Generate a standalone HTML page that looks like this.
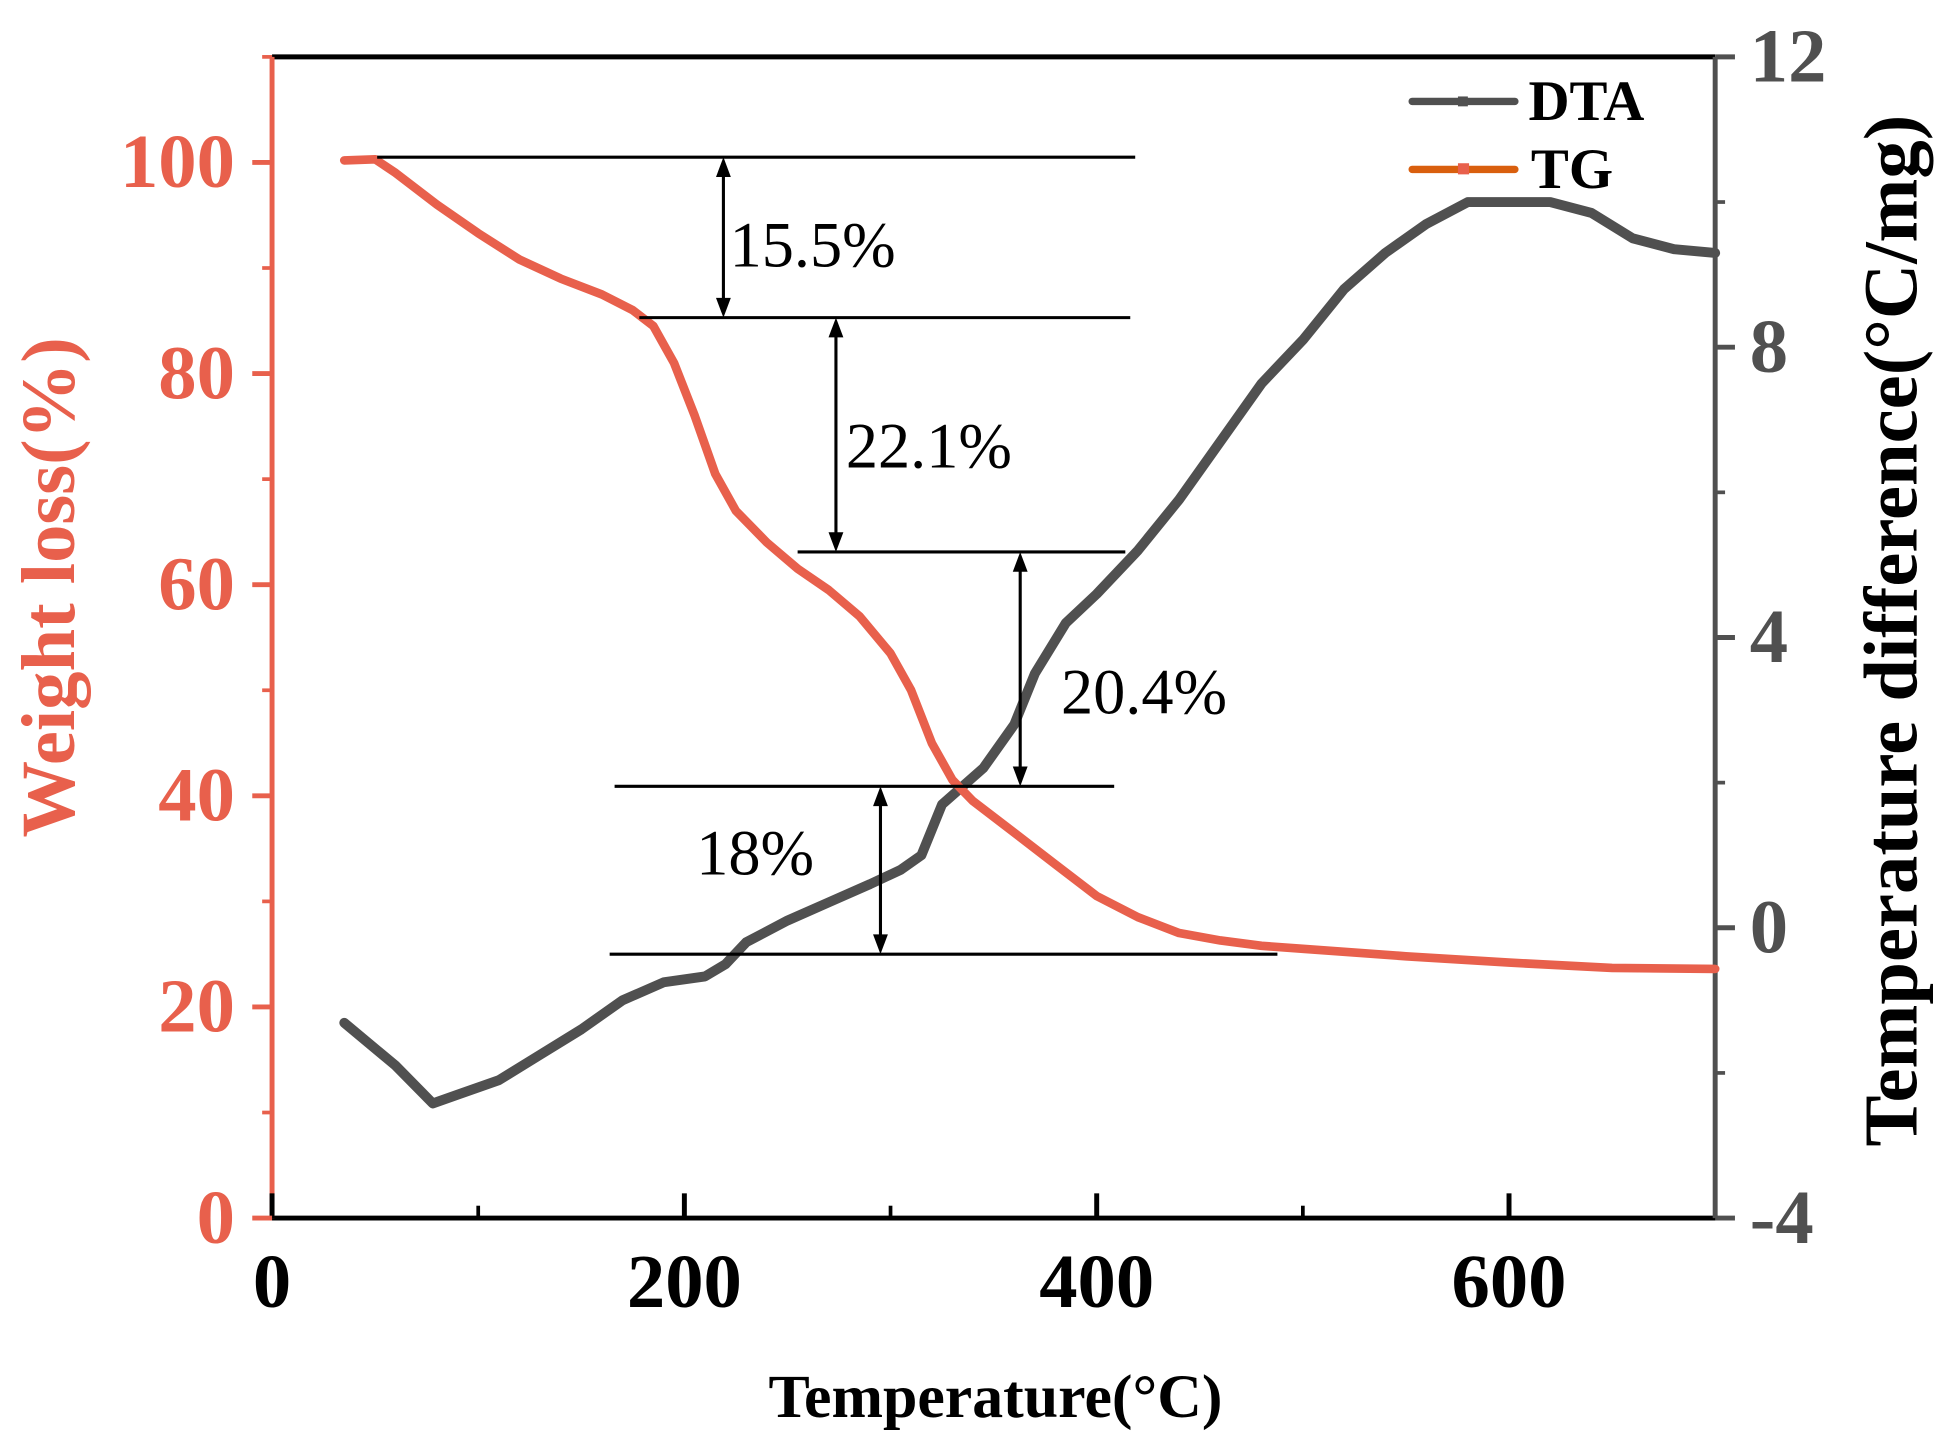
<!DOCTYPE html>
<html><head><meta charset="utf-8">
<style>
html,body{margin:0;padding:0;background:#fff;}
svg{display:block;}
text{font-family:"Liberation Serif",serif;}
</style></head>
<body>
<svg id="chart" width="1939" height="1445" viewBox="0 0 1568 1168.5" preserveAspectRatio="none" xmlns="http://www.w3.org/2000/svg">
</svg>
<script>
const tgTemps = [35,50,60,80,100,120,140,160,175,185,195,205,215,225,240,255,270,285,300,310,320,330,340,360,380,400,420,440,460,480,500,550,600,650,700];
const tgValues = [100.2,100.3,99,96,93.3,90.8,89,87.5,86,84.5,81,76,70.5,67,64,61.5,59.5,57,53.5,50,45,41.5,39.5,36.5,33.5,30.5,28.5,27,26.3,25.8,25.5,24.8,24.2,23.7,23.6];
const dtaTemps = [35,60,78,90,110,130,150,170,190,210,220,230,250,270,290,305,315,325,345,360,370,385,400,420,440,460,480,500,520,540,560,580,600,620,640,660,680,700];
const dtaValues = [-1.31,-1.9,-2.42,-2.3,-2.1,-1.75,-1.4,-1.0,-0.75,-0.67,-0.5,-0.2,0.1,0.35,0.6,0.8,1.0,1.7,2.2,2.8,3.5,4.2,4.6,5.2,5.9,6.7,7.5,8.1,8.8,9.3,9.7,10.0,10.0,10.0,9.85,9.5,9.35,9.3];
const xTicks = [0,200,400,600];
const xMinor = [100,300,500];
const leftTicks = [0,20,40,60,80,100];
const leftMinor = [10,30,50,70,90,110];
const rightTicks = [-4,0,4,8,12];
const rightMinor = [-2,2,6,10];
const steps = [
  {top:100.5, bottom:85.3, label:"15.5%"},
  {top:85.3, bottom:63.1, label:"22.1%"},
  {top:63.1, bottom:40.9, label:"20.4%"},
  {top:40.9, bottom:25.0, label:"18%"}
];

const L=220,R=1387,T=46,B=985;
const xs=v=>L+(v/700)*(R-L);
const yl=v=>B-(v/110)*(B-T);
const yr=v=>B-((v+4)/16)*(B-T);
const NS="http://www.w3.org/2000/svg";
const svg=document.getElementById('chart');
function mk(tag,attrs,parent){const e=document.createElementNS(NS,tag);for(const k in attrs)e.setAttribute(k,attrs[k]);(parent||svg).appendChild(e);return e;}
const RED="#e8604c",GRAY="#505050";

let e;
e=mk('line',{x1:L,y1:T,x2:R,y2:T,stroke:'#000','stroke-width':4});


e=mk('line',{x1:L-2,y1:B,x2:R+2,y2:B,stroke:'#000','stroke-width':4});


e=mk('line',{x1:L,y1:T,x2:L,y2:B,stroke:RED,'stroke-width':4});


e=mk('line',{x1:R,y1:T,x2:R,y2:B,stroke:GRAY,'stroke-width':4});



xTicks.forEach(v=>{
  e=mk('line',{x1:xs(v),y1:B,x2:xs(v),y2:B-20,stroke:'#000','stroke-width':4});
  
  
  e=mk('text',{x:xs(v),y:B+72,'text-anchor':'middle','font-size':62,'font-weight':'bold',fill:'#000'});
  e.textContent=v;
  
  
});
xMinor.forEach(v=>{
  e=mk('line',{x1:xs(v),y1:B,x2:xs(v),y2:B-10,stroke:'#000','stroke-width':3});
  
  
});
leftTicks.forEach(v=>{
  e=mk('line',{x1:L,y1:yl(v),x2:L-16,y2:yl(v),stroke:RED,'stroke-width':4});
  
  
  e=mk('text',{x:L-30,y:yl(v)+20,'text-anchor':'end','font-size':62,'font-weight':'bold',fill:RED});
  e.textContent=v;
  
  
});
leftMinor.forEach(v=>{
  e=mk('line',{x1:L,y1:yl(v),x2:L-8,y2:yl(v),stroke:RED,'stroke-width':3});
  
  
});
rightTicks.forEach(v=>{
  e=mk('line',{x1:R,y1:yr(v),x2:R+16,y2:yr(v),stroke:GRAY,'stroke-width':4});
  
  
  e=mk('text',{x:R+28,y:yr(v)+20,'text-anchor':'start','font-size':62,'font-weight':'bold',fill:GRAY});
  e.textContent=v;
  
  
});
rightMinor.forEach(v=>{
  e=mk('line',{x1:R,y1:yr(v),x2:R+8,y2:yr(v),stroke:GRAY,'stroke-width':3});
  
  
});

e=mk('text',{x:805,y:1146,'text-anchor':'middle','font-size':50,'font-weight':'bold',fill:'#000'});
e.textContent='Temperature(°C)';


e=mk('text',{x:0,y:0,'text-anchor':'middle','font-size':62,'font-weight':'bold',fill:RED,transform:'translate(60,475) rotate(-90)'});
e.textContent='Weight loss(%)';


e=mk('text',{x:0,y:0,'text-anchor':'middle','font-size':62,'font-weight':'bold',fill:'#000',transform:'translate(1550,510) rotate(-90)'});
e.textContent='Temperature difference(°C/mg)';



function path(xsArr,ysArr,yf){return xsArr.map((t,i)=>(i?'L':'M')+xs(t).toFixed(1)+','+yf(ysArr[i]).toFixed(1)).join(' ');}
e=mk('path',{d:path(dtaTemps,dtaValues,yr),fill:'none',stroke:GRAY,'stroke-width':8,'stroke-linejoin':'round','stroke-linecap':'round'});


e=mk('path',{d:path(tgTemps,tgValues,yl),fill:'none',stroke:RED,'stroke-width':7,'stroke-linejoin':'round','stroke-linecap':'round'});



const hl=[[305,918],[517,914],[645,910],[497,901],[493,1033]];
const levels=[steps[0].top,steps[0].bottom,steps[1].bottom,steps[2].bottom,steps[3].bottom];
levels.forEach((v,i)=>{
  e=mk('line',{x1:hl[i][0],y1:yl(v),x2:hl[i][1],y2:yl(v),stroke:'#000','stroke-width':2.5});
  
  
});
const ax=[585,676,825,712], lx=[590,684,858,563], ly=[0.55,0.55,0.6,0.4];
steps.forEach((s,i)=>{
  const y1=yl(s.top),y2=yl(s.bottom),x=ax[i];
  e=mk('line',{x1:x,y1:y1+12,x2:x,y2:y2-12,stroke:'#000','stroke-width':2.5});
  
  
  mk('polygon',{points:`${x},${y1} ${x-6},${y1+16} ${x+6},${y1+16}`,fill:'#000'});
  mk('polygon',{points:`${x},${y2} ${x-6},${y2-16} ${x+6},${y2-16}`,fill:'#000'});
  e=mk('text',{x:lx[i],y:y1+(y2-y1)*ly[i]+17,'font-size':52,fill:'#000'});
  e.textContent=s.label;
  
  
});

const lg=mk('g',{});


e=mk('line',{x1:1142,y1:82,x2:1225,y2:82,stroke:GRAY,'stroke-width':6,'stroke-linecap':'round'},lg);


mk('rect',{x:1179,y:78,width:8,height:8,fill:GRAY},lg);
e=mk('text',{x:1236,y:97,'font-size':46,'font-weight':'bold',fill:'#000'},lg);
e.textContent='DTA';


e=mk('line',{x1:1142,y1:137,x2:1225,y2:137,stroke:'#d95f0e','stroke-width':6,'stroke-linecap':'round'},lg);


mk('rect',{x:1179,y:132,width:9,height:9,fill:RED},lg);
e=mk('text',{x:1238,y:152,'font-size':46,'font-weight':'bold',fill:'#000'},lg);
e.textContent='TG';


</script>
</body></html>
